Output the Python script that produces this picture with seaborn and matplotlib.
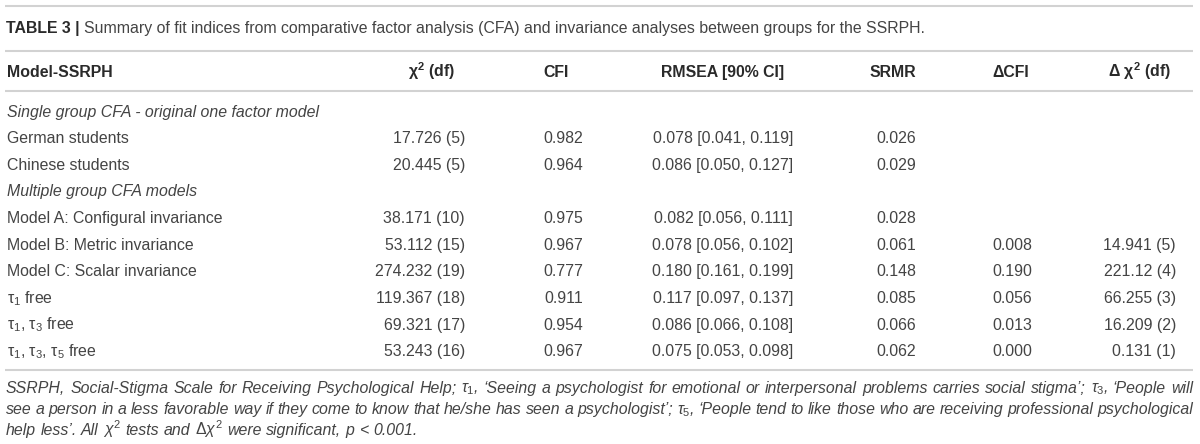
import matplotlib
matplotlib.use("Agg")
import matplotlib.pyplot as plt
import seaborn as sns

sns.set_theme(style="white")
FAM = ['Liberation Sans', 'DejaVu Sans']
plt.rcParams['font.family'] = FAM
plt.rcParams['mathtext.fontset'] = 'custom'
plt.rcParams['mathtext.rm'] = 'Liberation Sans'
plt.rcParams['mathtext.it'] = 'Liberation Sans:italic'
plt.rcParams['mathtext.bf'] = 'Liberation Sans:bold'
plt.rcParams['mathtext.sf'] = 'Liberation Sans'

# ---------------- data ----------------
title_bold = "TABLE 3 |"
title_rest = "Summary of fit indices from comparative factor analysis (CFA) and invariance analyses between groups for the SSRPH."

headers = ["Model-SSRPH", r"χ$^{\mathbf{2}}$ (df)", "CFI", "RMSEA [90% CI]", "SRMR", "ΔCFI",
           r"Δ χ$^{\mathbf{2}}$ (df)"]

row_labels = [
    "Single group CFA - original one factor model",
    "German students",
    "Chinese students",
    "Multiple group CFA models",
    "Model A: Configural invariance",
    "Model B: Metric invariance",
    "Model C: Scalar invariance",
    r"τ$_1$ free",
    r"τ$_1$, τ$_3$ free",
    r"τ$_1$, τ$_3$, τ$_5$ free",
]
section_rows = [True, False, False, True, False, False, False, False, False, False]

chi2_df = ["", "17.726 (5)", "20.445 (5)", "", "38.171 (10)", "53.112 (15)",
           "274.232 (19)", "119.367 (18)", "69.321 (17)", "53.243 (16)"]
cfi = ["", "0.982", "0.964", "", "0.975", "0.967", "0.777", "0.911", "0.954", "0.967"]
rmsea = ["", "0.078 [0.041, 0.119]", "0.086 [0.050, 0.127]", "",
         "0.082 [0.056, 0.111]", "0.078 [0.056, 0.102]", "0.180 [0.161, 0.199]",
         "0.117 [0.097, 0.137]", "0.086 [0.066, 0.108]", "0.075 [0.053, 0.098]"]
srmr = ["", "0.026", "0.029", "", "0.028", "0.061", "0.148", "0.085", "0.066", "0.062"]
delta_cfi = ["", "", "", "", "", "0.008", "0.190", "0.056", "0.013", "0.000"]
delta_chi2 = ["", "", "", "", "", "14.941 (5)", "221.12 (4)", "66.255 (3)",
              "16.209 (2)", "0.131 (1)"]

footnote_lines = [
    r"SSRPH, Social-Stigma Scale for Receiving Psychological Help; $\tau_1$, ‘Seeing a psychologist for emotional or interpersonal problems carries social stigma’; $\tau_3$, ‘People will",
    r"see a person in a less favorable way if they come to know that he/she has seen a psychologist’; $\tau_5$, ‘People tend to like those who are receiving professional psychological",
    r"help less’. All $\chi^2$ tests and $\Delta\chi^2$ were significant, $p$ < 0.001.",
]

# ---------------- layout ----------------
W, H = 1200, 444
fig = plt.figure(figsize=(W / 100, H / 100), dpi=100)
ax = fig.add_axes([0, 0, 1, 1])
ax.set_xlim(0, W)
ax.set_ylim(H, 0)
ax.axis("off")
renderer = fig.canvas.get_renderer()

TXT = "#444444"
BOLD = "#2a2a2a"
RULE = "#d2d2d2"
FS = 11.4
X0, X1 = 6, 1193

for y in [6, 51, 91, 370]:
    ax.plot([5, 1193], [y, y], color=RULE, lw=1.5, solid_capstyle="butt")

# title
tb = ax.text(X0, 33.3, title_bold, fontsize=FS, fontweight="bold", color=BOLD,
             va="baseline", ha="left")
bw = tb.get_window_extent(renderer).width
ax.text(X0 + bw + 4, 33.3, title_rest, fontsize=FS, color=TXT, va="baseline", ha="left")

# header
header_centers = [432, 556, 723, 893, 1011, 1139]
ax.text(7, 77, headers[0], fontsize=FS, fontweight="bold", color=BOLD,
        va="baseline", ha="left")
for h, cx in zip(headers[1:], header_centers):
    ax.text(cx, 77, h, fontsize=FS, fontweight="bold", color=BOLD,
            va="baseline", ha="center")

# body
baselines = [117, 143, 169.5, 196, 223, 249.5, 276, 303, 329.5, 356]
value_rights = [465, 583, 793, 916, 1032, 1176]
cols = [chi2_df, cfi, rmsea, srmr, delta_cfi, delta_chi2]
for i, (lab, sec) in enumerate(zip(row_labels, section_rows)):
    yb = baselines[i]
    ax.text(7, yb, lab, fontsize=FS, color=TXT, va="baseline", ha="left",
            style="italic" if sec else "normal")
    for col, xr in zip(cols, value_rights):
        if col[i]:
            ax.text(xr, yb, col[i], fontsize=FS, color=TXT, va="baseline", ha="right")

# footnote (justified)
def text_width(s, **kw):
    t = ax.text(0, 0, s, **kw)
    w = t.get_window_extent(renderer).width
    t.remove()
    return w

fkw = dict(fontsize=FS, color=TXT, style="italic", va="baseline", ha="left")
space_w = text_width("x x", **fkw) - text_width("xx", **fkw)
foot_baselines = [392.5, 413.8, 435.2]
for li, (line, yb) in enumerate(zip(footnote_lines, foot_baselines)):
    words = line.split(" ")
    texts = [ax.text(0, yb, w, **fkw) for w in words]
    widths = [t.get_window_extent(renderer).width for t in texts]
    justify = li < len(footnote_lines) - 1
    if justify:
        gap = (X1 - X0 - sum(widths)) / (len(words) - 1)
    else:
        gap = space_w
    x = X0
    for t, w in zip(texts, widths):
        t.set_x(x)
        x += w + gap

fig.savefig("out.png", dpi=100)
